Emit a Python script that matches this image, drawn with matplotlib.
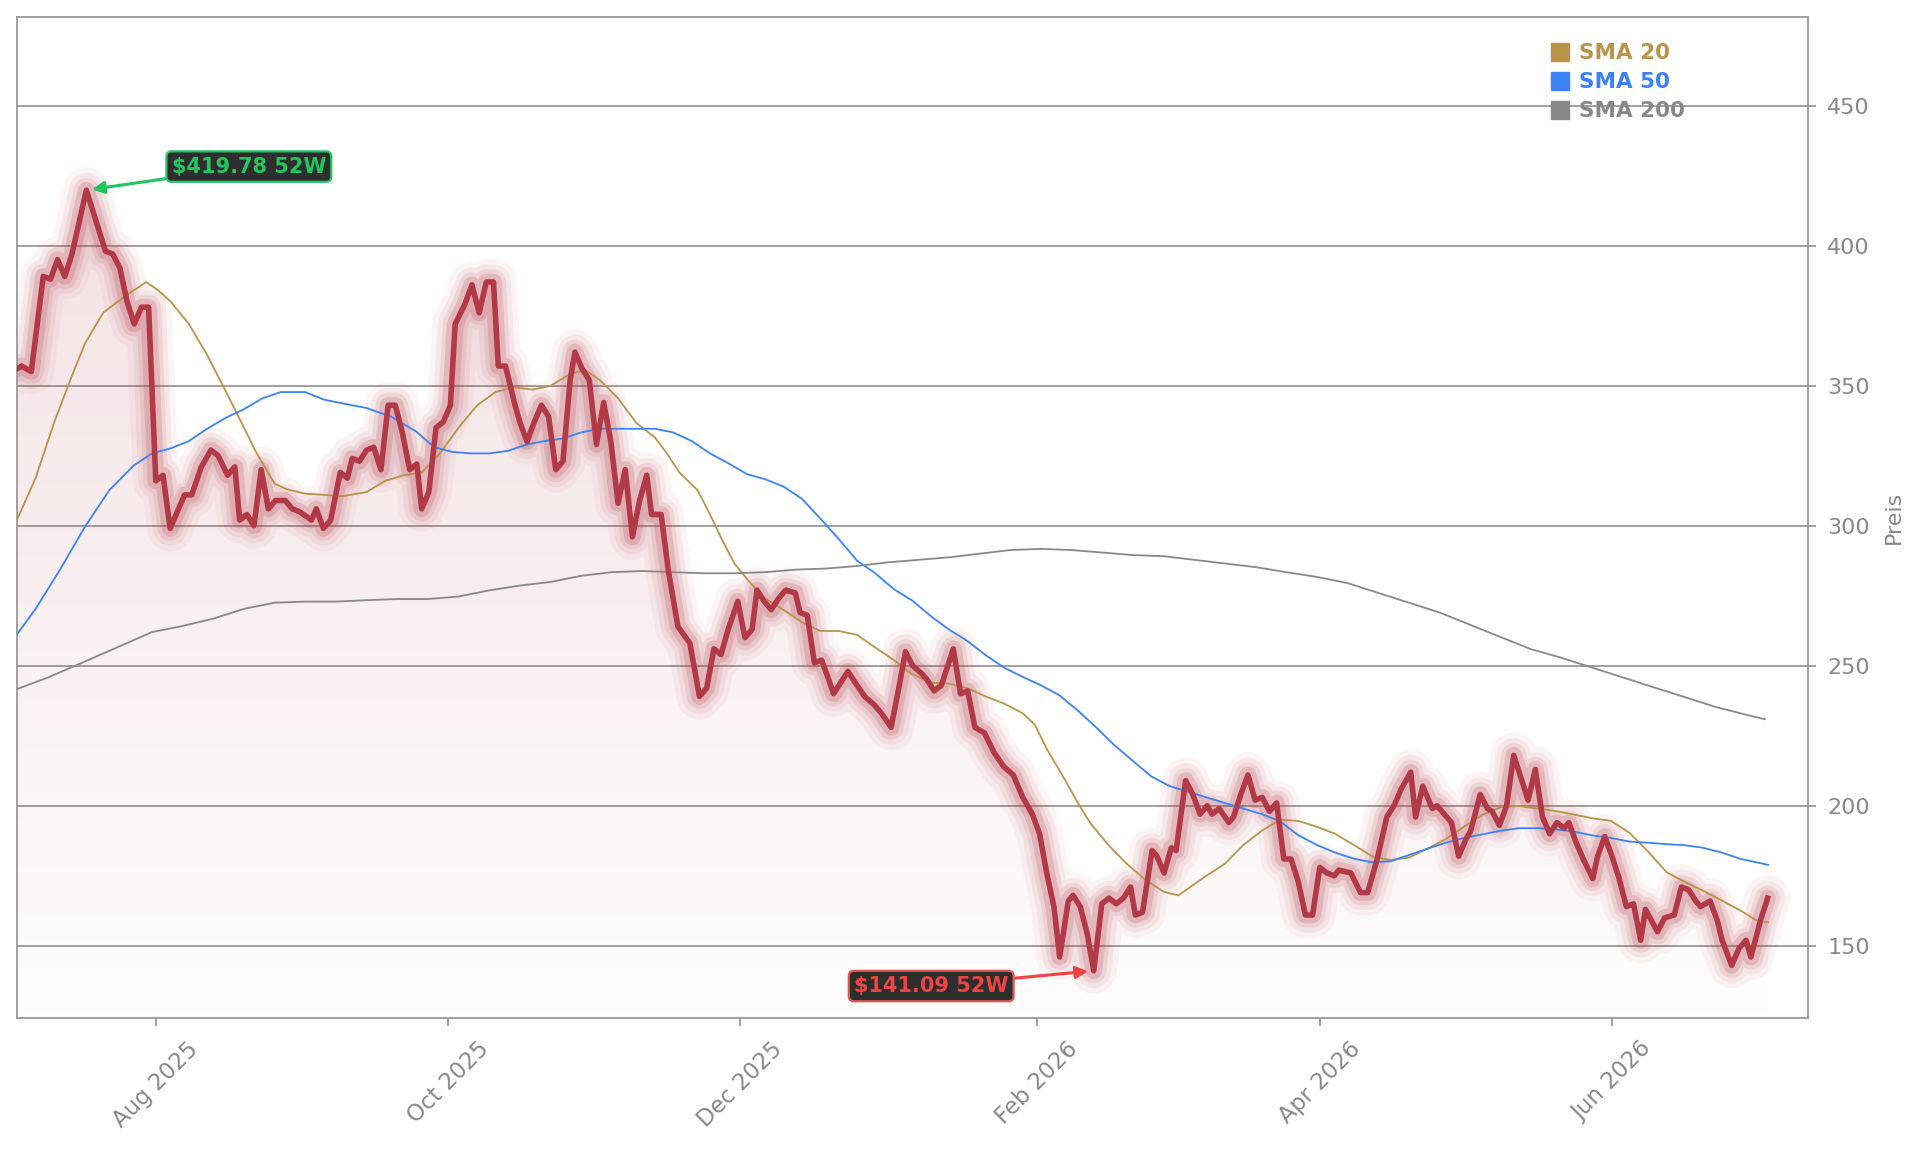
import numpy as np
import pandas as pd
import matplotlib
matplotlib.use("Agg")
import matplotlib.pyplot as plt
import matplotlib.dates as mdates
from matplotlib.colors import to_rgb
from matplotlib.lines import Line2D

# all days are counted from 1 Aug 2025
origin = pd.Timestamp("2025-08-01")

price_day = [
    -29, -28, -26, -23.5, -22, -20.5, -19, -17.5, -14.5, -10.5, -9, -7.5, -6, -4.5, -3, -1.5,
    0, 1.5, 3, 4.5, 6, 7.5, 9.5, 11.5, 13, 15, 16.5, 17.5, 19, 20.5, 22, 23.5, 25, 27, 28.5, 30,
    32.5, 33.5, 35, 36.5, 38.5, 40, 41, 42.5, 44, 45.5, 47, 48.5, 50, 51.5, 53, 54.5, 55.5, 57, 58.5, 60,
    61.5, 62.5, 64.5, 66, 67.5, 69, 70.5, 71.5, 73, 75, 76, 77.5, 79, 80.5, 82, 83.5, 85, 86.5, 87.5, 89,
    90.5, 92, 93.5, 95, 96.5, 98, 99.5, 101, 102.5, 103.5, 105.5, 107, 109, 111.5, 113.5, 115, 116.5, 118, 119.5, 121.5,
    123, 124.5, 125.5, 127, 128.5, 130, 131.5, 133.5, 134.5, 136, 137.5, 139, 140.5, 141.5, 143, 144.5, 146, 148, 150, 151.5,
    153.5, 155, 156.5, 158, 160, 161, 162.5, 164, 166.5, 168, 169.5, 171, 173, 175, 177, 179, 181, 183, 184.5, 186,
    187.5, 188.7, 190.5, 191.5, 193, 194.5, 195.8, 197.5, 199, 200.5, 202, 203.5, 204.5, 206, 208, 209, 210.5, 212, 213, 215,
    216.5, 218, 219.5, 220.5, 222, 224, 225, 226.5, 228, 229.5, 231, 232.5, 234, 235.5, 237, 238.5, 240, 241.5, 243, 244.5,
    246, 247, 249.5, 251.5, 253, 255, 257, 258.5, 260, 262, 263, 264.5, 266.5, 267.5, 269, 270.5, 272, 273.5, 274.5, 276.5,
    278, 279, 280.5, 282, 283.5, 285, 286.5, 288, 289.5, 291, 292.5, 294, 295, 296.5, 298, 300, 301, 302.5, 304, 305.5,
    307, 308.5, 310, 311, 313.5, 315, 317, 318.5, 320, 321.5, 322.5, 324.5, 326, 327, 329, 330.5, 332, 333, 335, 336.5,
]
price = [
    356, 357, 355, 389, 388, 395, 389, 397, 419.78, 398, 397, 392, 380, 372, 378, 378,
    316, 318, 299, 305, 311, 311, 321, 327, 325, 318, 321, 302, 304, 300, 320, 306, 309, 309, 306, 305,
    302, 306, 299, 302, 319, 317, 324, 323, 327, 328, 320, 343, 343, 333, 320, 322, 306, 312, 335, 337,
    343, 372, 379, 386, 376, 387, 387, 357, 357, 343, 337, 330, 337, 343, 339, 320, 323, 352, 362, 356,
    352, 329, 344, 330, 308, 320, 296, 309, 318, 304, 304, 284, 264, 258, 239, 242, 256, 254, 263, 273,
    260, 263, 277, 273, 270, 274, 277, 276, 269, 268, 251, 252, 245, 240, 244, 248, 244, 239, 236, 233,
    228, 241, 255, 250, 247, 245, 241, 243, 256, 240, 241, 228, 226, 219, 214, 211, 203, 197, 190, 176,
    164, 146, 166, 168, 164, 154, 141.09, 165, 167, 165, 167, 171, 161, 162, 184, 182, 176, 185, 184, 209,
    204, 197, 200, 197, 199, 194, 196, 204, 211, 202, 203, 198, 201, 181, 181, 173, 161, 161, 178, 176,
    175, 177, 176, 169, 169, 181, 196, 200, 206, 212, 196, 207, 199, 200, 197, 194, 182, 188, 191, 204,
    199, 198, 193, 200, 218, 210, 202, 213, 196, 190, 194, 192, 194, 187, 181, 174, 182, 189, 182, 174,
    164, 165, 152, 163, 155, 160, 161, 171, 170, 166, 164, 166, 159, 152, 143, 149, 152, 146, 159, 167,
]

sma20_day = [
    -29.4, -25.1, -21.2, -17.4, -14.8, -11, -7.2, -4.6, -2, 0.5, 3.1, 6.9, 10.7, 14.6, 18.4, 21, 24.8, 27.4,
    31.2, 35.1, 38.9, 44, 47.9, 51.7, 55.5, 59.4, 63.2, 67.1, 70.9, 74.7, 78.6, 82.4, 86.3, 89.6, 92.7, 96.5,
    100.3, 104.2, 106.7, 109.3, 113.1, 115.7, 118.2, 120.8, 123.9, 127.2, 131, 134.9, 138.7, 142.6, 146.4,
    150.2, 154.1, 157.9, 161.8, 165.6, 169.4, 173.3, 177.1, 181, 183.5, 186.1, 189.9, 192.5, 195.1, 198.9,
    202.7, 206.5, 210.4, 213.5, 216.8, 219.3, 223.2, 227, 230.9, 234.7, 238.5, 242.4, 246.2, 250.1, 253.9,
    257.8, 261.6, 265.4, 269.3, 273.1, 277, 280.8, 284.6, 288.5, 292.3, 296.2, 300, 303.8, 307.7, 311.5,
    315.4, 319.2, 323, 326.9, 330.7, 334.5, 336.6,
]
sma20 = [
    300.5, 317, 337, 354, 365, 376, 381, 384, 387, 384, 380, 372, 361, 348, 335, 326, 315, 313,
    311.4, 311, 310.5, 312, 316, 318, 319, 326, 335, 343, 347.7, 349.4, 348.6, 349.9, 354, 355.6, 352, 345.5,
    336.7, 331.5, 325.8, 319, 312.7, 304, 295, 286.5, 280, 274, 270, 265.5, 262.4, 262.4, 261,
    256.5, 252, 247, 244, 243.6, 242, 239, 236.5, 233, 229, 220, 209, 201, 193.8, 185.9,
    179.3, 173.7, 169.3, 168, 172, 175, 179.3, 185.9, 191.1, 195, 194.6, 192.5, 190, 186, 182,
    180.6, 181.5, 184.6, 188.1, 192.5, 196.8, 199.5, 199.9, 199, 198.1, 196.8, 195.5, 194.6, 190.3, 183.7,
    176.3, 172.8, 169.7, 166.2, 162.7, 158.8, 158.4,
]

sma50_day = [
    -29.4, -25.1, -20, -14.8, -9.7, -4.6, -0.8, 3.1, 6.9, 10.7, 14.6, 18.4, 22.3, 26.1, 31.2, 35.1, 38.9, 44,
    49.1, 54.3, 58.1, 62, 65.8, 69.6, 73.5, 77.3, 81.1, 85, 88.8, 92.7, 96.5, 100.3, 104.2, 108, 111.9, 115.7,
    119.5, 123.4, 127.2, 131, 134.9, 138.7, 142.6, 146.4, 150.2, 154.1, 157.9, 161.8, 165.6, 169.4, 173.3,
    177.1, 181, 184.8, 188.6, 192.5, 196.3, 200.2, 204, 207.8, 211.7, 215.5, 219.3, 223.2, 227, 230.9, 234.7,
    238.5, 242.4, 246.2, 250.1, 253.9, 257.8, 261.6, 265.4, 269.3, 273.1, 277, 280.8, 284.6, 288.5, 292.3,
    296.2, 300, 303.8, 307.7, 311.5, 315.4, 319.2, 323, 326.9, 330.7, 336.6,
]
sma50 = [
    260.2, 270.3, 284.3, 299.6, 312.7, 321.5, 325.8, 327.6, 330.2, 334.6, 338.5, 341.6, 345.5, 347.7, 347.7, 345, 343.7, 342,
    338.9, 333.7, 328, 326.3, 325.8, 325.8, 326.7, 328.9, 330.2, 331.1, 333.3, 334.6, 334.6, 334.6, 334.6, 333.3, 330.2, 325.8,
    322.3, 318.4, 316.6, 314, 309.6, 302.6, 295.2, 287.5, 283, 277.3, 273.3, 267.7, 262.9, 258.9, 253.7,
    249.3, 246, 243, 239.5, 234, 228, 221.5, 216, 210.5, 207, 205, 203, 201, 199, 197, 194.5,
    189.5, 186, 183.3, 181.1, 179.8, 180.2, 182.4, 184.6, 186.8, 188.5, 189.8, 191.1, 192, 192, 191.6,
    190.7, 189.4, 188.5, 187.2, 186.8, 186.3, 185.9, 185, 183.3, 181.1, 178.9,
]

sma200_day = [
    -29.4, -22.5, -14.8, -7.2, -0.8, 5.6, 12, 18.4, 24.8, 31.2, 37.6, 44, 50.4, 56.8, 63.2, 69.6, 76, 82.4,
    88.8, 95.2, 101.6, 108, 114.4, 120.8, 127.2, 133.6, 140, 146.4, 152.8, 159.2, 165.6, 172, 178.4, 184.8,
    191.2, 197.6, 204, 210.4, 216.8, 223.2, 229.6, 236, 242.4, 248.8, 255.2, 261.6, 268, 274.4, 280.8, 287.1,
    293.5, 299.9, 306.3, 312.7, 319.2, 325.6, 332, 335.9,
]
sma200 = [
    241.4, 245.8, 251.5, 257.2, 262, 264.2, 266.8, 270.3, 272.5, 272.9, 272.9, 273.4, 273.8, 273.8, 274.7, 276.9, 278.6, 279.9,
    282.1, 283.4, 283.8, 283.4, 283, 283, 283.4, 284.3, 284.7, 285.6, 286.9, 287.8, 288.7, 290, 291.3, 291.7,
    291.3, 290.4, 289.5, 289.1, 287.8, 286.5, 285.2, 283.4, 281.7, 279.5, 276, 272.5, 269, 264.6, 260.2, 255.9,
    252.8, 249.3, 245.8, 242.3, 238.8, 235.3, 232.5, 230.9,
]

sma_labels = ["SMA 20", "SMA 50", "SMA 200"]
sma_colors = ["#b8934a", "#3b82f6", "#888888"]

line_color = "#b23a47"
grey = "#888888"


def to_dates(days):
    return origin + pd.to_timedelta(np.asarray(days, dtype=float), unit="D")


dates = to_dates(price_day)
price = np.array(price)

fig = plt.figure(figsize=(19.21, 11.51), dpi=100)
ax = fig.add_axes([0.0088, 0.1155, 0.9323, 0.8697])

y_lo, y_hi = 124.2, 481.6
x_lo = dates[0]
x_hi = dates[-1] + pd.Timedelta(days=8.4)

# gradient fill under the price
poly = ax.fill_between(dates, price, y_lo, facecolor="none", edgecolor="none")
rgba = np.zeros((256, 1, 4))
rgba[..., :3] = to_rgb(line_color)
rgba[:, 0, 3] = np.linspace(0.015, 0.15, 256)
im = ax.imshow(rgba, origin="lower", aspect="auto", zorder=1,
               extent=[mdates.date2num(x_lo), mdates.date2num(dates[-1]), y_lo, price.max()])
im.set_clip_path(poly.get_paths()[0], transform=ax.transData)

# glow
for w, a in [(33, 0.05), (25, 0.07), (18, 0.1), (12, 0.18)]:
    ax.plot(dates, price, color=line_color, lw=w, alpha=a, zorder=2,
            solid_joinstyle="round", solid_capstyle="round")

for d, v, c in zip([sma20_day, sma50_day, sma200_day], [sma20, sma50, sma200], sma_colors):
    ax.plot(to_dates(d), v, color=c, lw=1.3, zorder=3)

ax.plot(dates, price, color=line_color, lw=4, zorder=4, solid_joinstyle="round")

# 52 week high / low
hi_i = int(np.argmax(price))
lo_i = int(np.argmin(price))
ax.annotate(f"${price[hi_i]:.2f} 52W", xy=(dates[hi_i], price[hi_i]), xytext=(117, 17),
            textcoords="offset points", ha="center", va="center",
            color="#22c55e", fontsize=15, fontweight="bold", zorder=6,
            bbox=dict(boxstyle="round,pad=0.25", fc="#2e2e2e", ec="#22c55e", lw=1.6),
            arrowprops=dict(arrowstyle="-|>", color="#22c55e", lw=2.2, mutation_scale=18,
                            shrinkA=0, shrinkB=4))
ax.annotate(f"${price[lo_i]:.2f} 52W", xy=(dates[lo_i], price[lo_i]), xytext=(-117, -11),
            textcoords="offset points", ha="center", va="center",
            color="#ef4444", fontsize=15, fontweight="bold", zorder=6,
            bbox=dict(boxstyle="round,pad=0.25", fc="#2e2e2e", ec="#e25555", lw=1.6),
            arrowprops=dict(arrowstyle="-|>", color="#ef4444", lw=2.2, mutation_scale=18,
                            shrinkA=0, shrinkB=4))

ax.set_xlim(x_lo, x_hi)
ax.set_ylim(y_lo, y_hi)
ax.set_yticks([150, 200, 250, 300, 350, 400, 450])
ax.xaxis.set_major_locator(mdates.MonthLocator(bymonth=(2, 4, 6, 8, 10, 12)))
ax.xaxis.set_major_formatter(mdates.DateFormatter("%b %Y"))
plt.setp(ax.get_xticklabels(), rotation=45, ha="center")

ax.yaxis.tick_right()
ax.yaxis.set_label_position("right")
ax.set_ylabel("Preis", fontsize=16, color=grey, labelpad=10)
ax.tick_params(axis="both", labelsize=16, labelcolor=grey, color="#999999",
               length=6, width=1.3, pad=8)
ax.tick_params(axis="x", labelsize=16.5)

ax.yaxis.grid(True, color="#999999", lw=1.3)
ax.xaxis.grid(False)
ax.set_axisbelow(True)
for s in ax.spines.values():
    s.set_color("#999999")
    s.set_linewidth(1.3)

handles = [Line2D([], [], marker="s", linestyle="none", color=c, markersize=13) for c in sma_colors]
leg = ax.legend(handles, sma_labels, loc="upper left", bbox_to_anchor=(0.8565, 0.974),
                frameon=False, borderpad=0, borderaxespad=0, handlelength=0.85,
                handletextpad=0.45, labelspacing=0.42,
                prop={"size": 15.5, "weight": "bold"})
for t, c in zip(leg.get_texts(), sma_colors):
    t.set_color(c)

fig.savefig("out.png", dpi=100)
